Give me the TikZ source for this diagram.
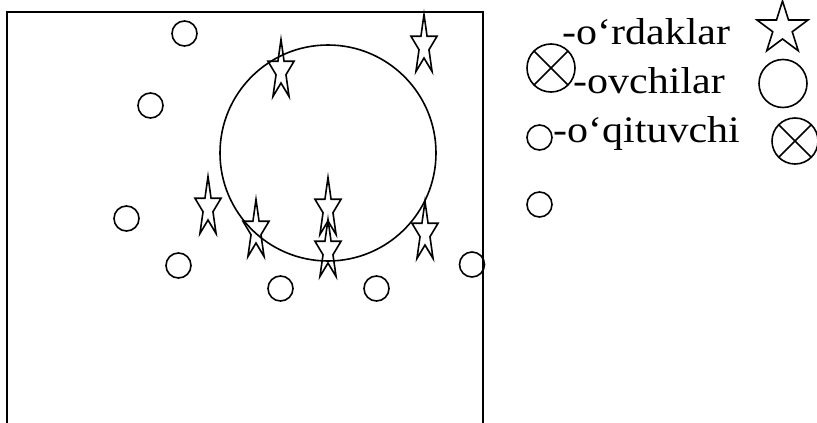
\documentclass[tikz,border=0pt]{standalone}
\usepackage{fontspec}
\newfontfamily\legendfont{Liberation Serif}[FakeStretch=1.12]
\usepackage{tikz}
\usetikzlibrary{shapes}
\tikzset{
	hunter/.style={circle, draw=black, line width=1.6pt, minimum size=25pt, inner sep=0pt},
	hunter_big/.style={hunter, minimum size=48pt},
	teacher/.style={circle, draw=black, line width=1.6pt, minimum size=48pt, inner sep=0pt, path picture={\draw[line width=1.6pt] (path picture bounding box.south west) -- (path picture bounding box.north east) (path picture bounding box.north west) -- (path picture bounding box.south east);}},
	pond/.style={circle, draw=black, line width=1.6pt, minimum size=216pt, inner sep=0pt},
	field/.style={draw=black, line width=1.7pt},
	duck_line/.style={draw=black, line width=1.6pt, line join=miter},
	legend/.style={anchor=base west, inner sep=0pt, font=\legendfont\fontsize{37.5pt}{40pt}\selectfont},
	pics/duck/.style 2 args={code={\draw[duck_line] (0,-#2) \foreach \a in {0,72,...,288}{ -- ({0.382*#1*cos(\a-54)},{0.382*#2*sin(\a-54)}) -- ({#1*cos(\a-18)},{#2*sin(\a-18)}) } -- cycle;}}
}
\begin{document}
\begin{tikzpicture}[x=1pt, y=-1pt]
	\useasboundingbox (0,0) rectangle (817,423);
	\coordinate (field_bl) at (7,423);
	\coordinate (field_tr) at (483,12);
	\coordinate (field_br) at (483,423);
	\draw[field] (field_bl) |- (field_tr) -- (field_br);
	\node[pond] (pond) at (328,153) {};
	\node[hunter] (h1) at (184.5,33.5) {};
	\node[hunter] (h2) at (150.5,105.5) {};
	\node[hunter] (h3) at (126.5,218.5) {};
	\node[hunter] (h4) at (178.5,265.5) {};
	\node[hunter] (h5) at (280.5,288.5) {};
	\node[hunter] (h6) at (376.5,288.5) {};
	\node[hunter] (h7) at (472,264.5) {};
	\pic at (281,71) {duck={13.7}{31.5}};
	\pic at (424,46) {duck={13.7}{31.5}};
	\pic at (208,208) {duck={13.7}{31.5}};
	\pic at (256,231) {duck={13.7}{31.5}};
	\pic at (328,209) {duck={13.7}{31.5}};
	\pic at (328,251) {duck={13.7}{31.5}};
	\pic at (425,233) {duck={13.7}{31.5}};
	\node[legend] (l_duck) at (562,45) {-o‘rdaklar};
	\node[legend] (l_hunter) at (573,93) {-ovchilar};
	\node[legend] (l_teacher) at (553,142) {-o‘qituvchi};
	\node[teacher] (t_left) at (551,68) {};
	\node[hunter] (c_left) at (539.5,137.5) {};
	\node[hunter] (c_low) at (539.5,204.5) {};
	\pic at (782.5,28.5) {duck={26.8}{27.5}};
	\node[hunter_big] (c_right) at (783,83.5) {};
	\node[teacher, minimum size=46pt] (t_right) at (795,141) {};
\end{tikzpicture}
\end{document}
